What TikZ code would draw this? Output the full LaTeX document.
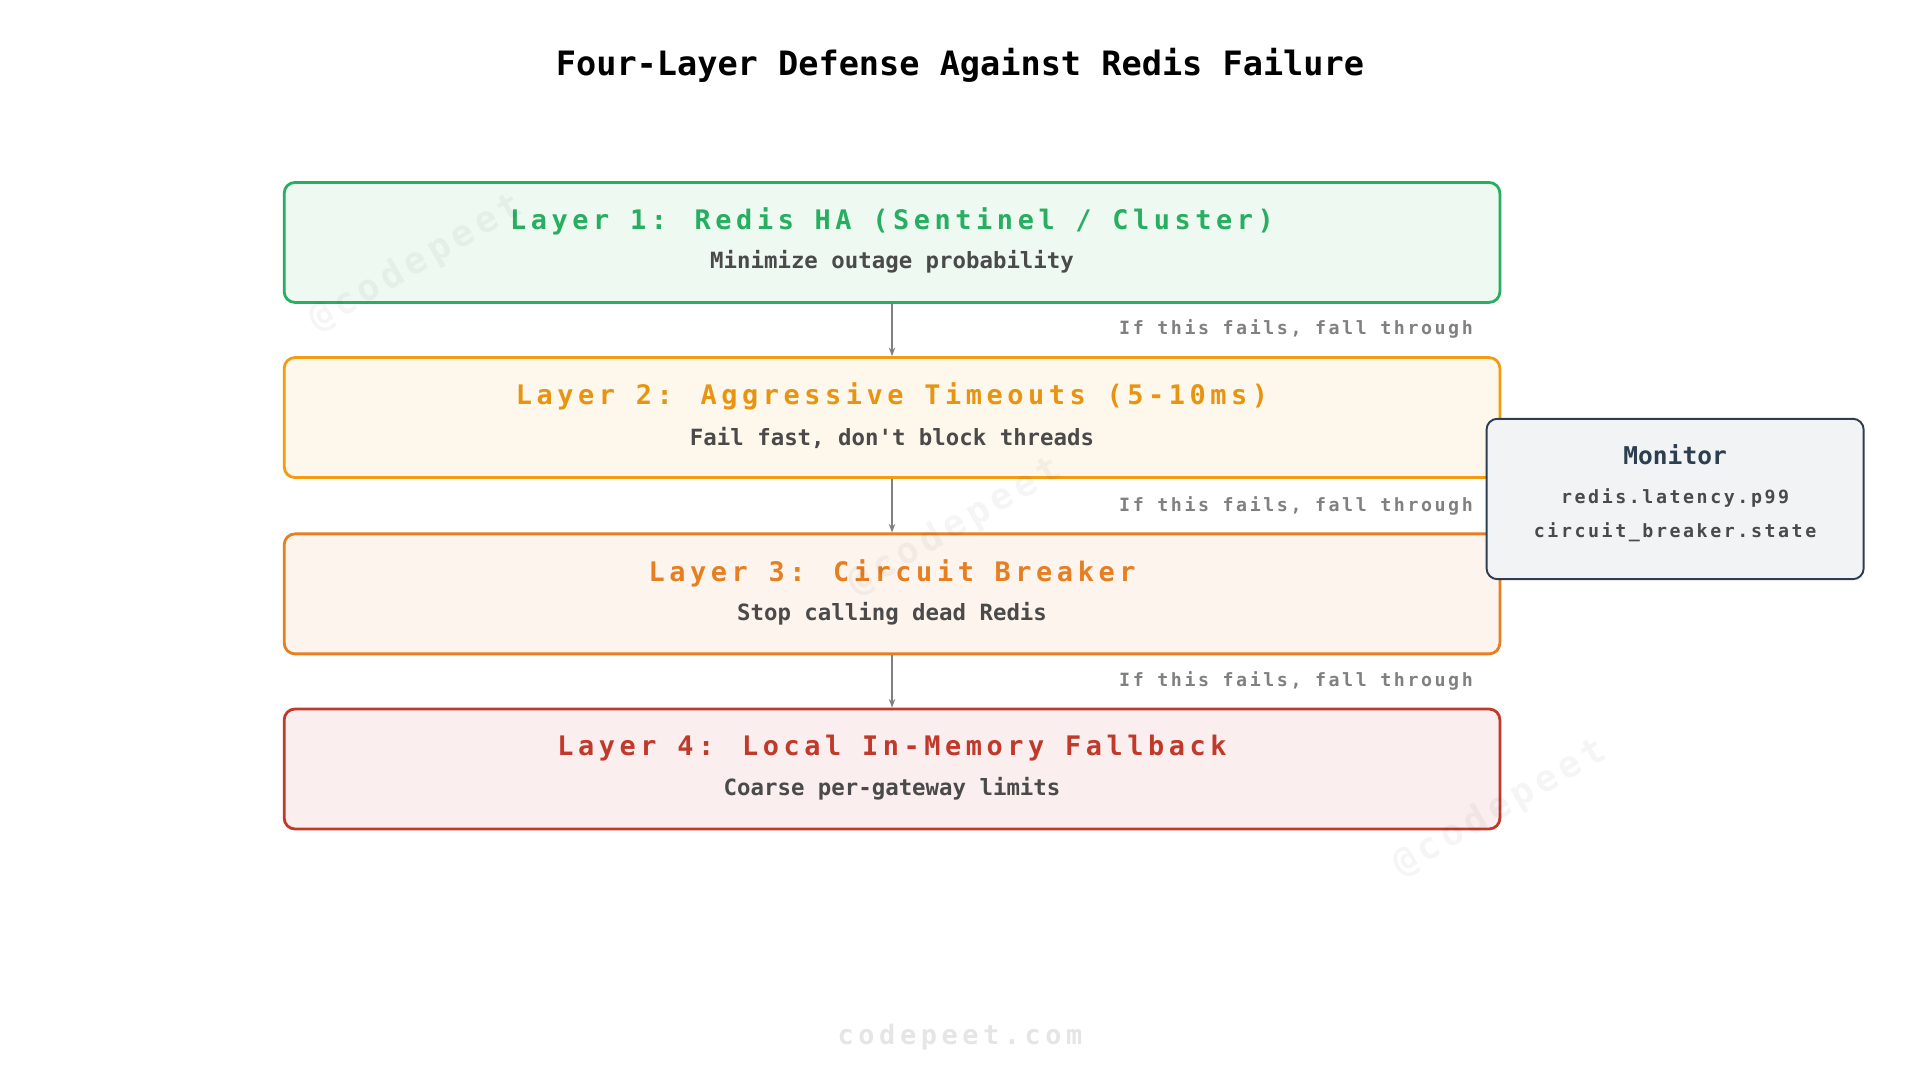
\documentclass[tikz,border=0pt]{standalone}
\usepackage{fontspec}
\setmonofont{DejaVu Sans Mono}
\newfontfamily\spacedmono[LetterSpace=17]{DejaVu Sans Mono}
\newfontfamily\smallmono[LetterSpace=14]{DejaVu Sans Mono}
\usetikzlibrary{arrows.meta}
\definecolor{lgreen}{HTML}{27AE60}
\definecolor{lorange}{HTML}{F39C12}
\definecolor{ldark}{HTML}{E67E22}
\definecolor{lred}{HTML}{C0392B}
\definecolor{mon}{HTML}{2C3E50}
\definecolor{subtxt}{HTML}{4A4A4A}
\tikzset{
	layer/.style={draw=#1, line width=1.3pt, rounded corners=5pt, minimum width=19.86cm, minimum height=1.96cm},
	head/.style={font=\spacedmono\bfseries\fontsize{12.5}{14}\selectfont},
	sub/.style={font=\ttfamily\bfseries\fontsize{10.4}{12}\selectfont, text=subtxt},
	fall/.style={font=\smallmono\bfseries\fontsize{8.5}{10}\selectfont, text=gray, anchor=east},
	flow/.style={draw=gray, line width=0.9pt, -{Stealth[length=4pt,width=3pt]}},
	wmark/.style={font=\smallmono\bfseries\fontsize{17}{20}\selectfont, text=black, text opacity=0.04, rotate=30}
}
\begin{document}
\begin{tikzpicture}[x=0.02cm, y=-0.02cm]
	\useasboundingbox (0,0) rectangle (1568,882);
	\node [font=\ttfamily\bfseries\fontsize{15.6}{18}\selectfont] (title) at (784,53) {Four-Layer Defense Against Redis Failure};

	% layers
	\node [layer=lgreen, fill=lgreen!8] (l1) at (728.5,198) {};
	\node [layer=lorange, fill=lorange!8] (l2) at (728.5,341) {};
	\node [layer=ldark, fill=ldark!8] (l3) at (728.5,485) {};
	\node [layer=lred, fill=lred!8] (l4) at (728.5,628) {};

	\node [head, text=lgreen] (t1) at (728.5,181) {Layer 1: Redis HA (Sentinel / Cluster)};
	\node [sub] (s1) at (728.5,214) {Minimize outage probability};
	\node [head, text=lorange!95!black] (t2) at (728.5,324) {Layer 2: Aggressive Timeouts (5-10ms)};
	\node [sub] (s2) at (728.5,358) {Fail fast, don't block threads};
	\node [head, text=ldark] (t3) at (728.5,468) {Layer 3: Circuit Breaker};
	\node [sub] (s3) at (728.5,501) {Stop calling dead Redis};
	\node [head, text=lred] (t4) at (728.5,611) {Layer 4: Local In-Memory Fallback};
	\node [sub] (s4) at (728.5,644) {Coarse per-gateway limits};

	\draw [flow] (l1.south) -- (l2.north);
	\draw [flow] (l2.south) -- (l3.north);
	\draw [flow] (l3.south) -- (l4.north);
	\foreach \y/\n in {269/f1, 413/f2, 556/f3} {
		\node [fall] (\n) at (1209,\y) {If this fails, fall through};
	}

	% monitor
	\node [draw=mon, fill=mon!6, line width=0.9pt, rounded corners=5pt, minimum width=6.16cm, minimum height=2.62cm] (mon) at (1368,407.5) {};
	\node [font=\ttfamily\bfseries\fontsize{11.4}{13}\selectfont, text=mon] (mont) at (1368,371) {Monitor};
	\node [font=\smallmono\bfseries\fontsize{8.5}{10}\selectfont, text=subtxt] (m1) at (1368,407) {redis.latency.p99};
	\node [font=\smallmono\bfseries\fontsize{8.5}{10}\selectfont, text=subtxt] (m2) at (1368,435) {circuit\_breaker.state};

	% watermarks
	\node [wmark] (wm1) at (340,215) {@codepeet};
	\node [wmark] (wm2) at (780,430) {@codepeet};
	\node [wmark] (wm3) at (1225,660) {@codepeet};
	\node [font=\spacedmono\bfseries\fontsize{12.5}{14}\selectfont, text=black!10] (site) at (784,847) {codepeet.com};
\end{tikzpicture}
\end{document}
